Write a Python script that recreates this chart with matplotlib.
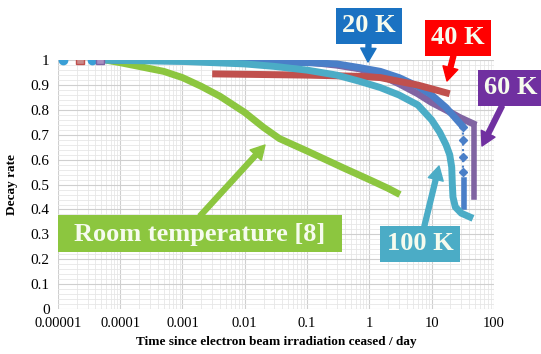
import numpy as np
import matplotlib.pyplot as plt
from matplotlib.patches import Rectangle
from matplotlib.ticker import FixedLocator, LogLocator, NullFormatter

# data (time in days, decay rate)
t_room = [6e-5, 1e-4, 2e-4, 5e-4, 1e-3, 2e-3, 4e-3, 0.01, 0.02, 0.036, 0.06, 0.1, 0.2, 0.4, 1.0, 2.0, 3.1]
v_room = [1.0, 0.99, 0.975, 0.955, 0.93, 0.895, 0.855, 0.79, 0.73, 0.685, 0.66, 0.635, 0.6, 0.565, 0.52, 0.485, 0.46]

t_20k = [8e-5, 0.01, 0.1, 0.3, 0.7, 1.5, 3, 6, 10, 17, 30]
v_20k = [1.0, 0.995, 0.99, 0.985, 0.97, 0.955, 0.93, 0.895, 0.86, 0.81, 0.74]
t_20k_drop = [32, 32, 32, 32]
v_20k_drop = [0.73, 0.68, 0.61, 0.55]
t_20k_tail = [33, 33]
v_20k_tail = [0.52, 0.41]

t_40k = [0.003, 0.1, 0.7, 1.5, 3, 6, 10, 19.5]
v_40k = [0.945, 0.94, 0.935, 0.93, 0.915, 0.9, 0.885, 0.865]

t_60k = [1e-4, 0.01, 0.1, 0.3, 0.7, 1.5, 3, 6, 10, 17, 28, 46]
v_60k = [1.0, 0.998, 0.993, 0.98, 0.965, 0.94, 0.905, 0.865, 0.83, 0.8, 0.77, 0.745]
t_60k_drop = [48, 48]
v_60k_drop = [0.74, 0.45]

t_100k = [6e-5, 1e-3, 0.01, 0.03, 0.1, 0.3, 0.7, 1.5, 3, 6, 10, 13.5, 17, 19.5, 21, 21.5, 22, 24, 30, 41]
v_100k = [1.0, 0.995, 0.985, 0.975, 0.96, 0.94, 0.915, 0.89, 0.86, 0.82, 0.76, 0.71, 0.66, 0.62, 0.57, 0.5, 0.45, 0.41, 0.385, 0.37]

# single markers at the very start
t_start_100k = [1.2e-5, 3.5e-5]
t_start_40k = [2.3e-5]
t_start_60k = [4.7e-5]

c_room = '#8cc63f'
c_20k = '#4a7fc8'
c_40k = '#c0504d'
c_60k = '#8064a2'
c_100k = '#4bacc6'

plt.rcParams['font.family'] = ['Liberation Serif', 'DejaVu Serif']

fig = plt.figure(figsize=(5.41, 3.54), dpi=100)
ax = fig.add_axes([0.107, 0.127, 0.806, 0.703])

ax.plot(t_room, v_room, color=c_room, lw=5, solid_capstyle='butt', zorder=3)
ax.plot(t_60k, v_60k, color=c_60k, lw=5, zorder=4)
ax.plot(t_60k_drop, v_60k_drop, color=c_60k, lw=4, zorder=4)
ax.plot(t_20k, v_20k, color=c_20k, lw=5, zorder=5)
ax.plot(t_20k_drop, v_20k_drop, ':', color=c_20k, lw=1.5, marker='D', ms=4, zorder=5)
ax.plot(t_20k_tail, v_20k_tail, color=c_20k, lw=4, zorder=5)
ax.plot(t_40k, v_40k, color=c_40k, lw=5, solid_capstyle='butt', zorder=6)
ax.plot(t_100k, v_100k, color=c_100k, lw=5, zorder=7)

ax.plot(t_start_100k, [1.0] * len(t_start_100k), 'o', color='#3a9fd6', ms=6, zorder=8)
ax.plot(t_start_40k, [1.0] * len(t_start_40k), 's', color='#c98a8a', mec=c_40k, ms=6, zorder=8)
ax.plot(t_start_60k, [1.0] * len(t_start_60k), 's', color='#a990c0', mec=c_60k, ms=6, zorder=8)

ax.set_xscale('log')
ax.set_xlim(1e-5, 100)
ax.set_ylim(0, 1)

xticks = [1e-5, 1e-4, 1e-3, 1e-2, 0.1, 1, 10, 100]
xlabels = ['0.00001', '0.0001', '0.001', '0.01', '0.1', '1', '10', '100']
ax.xaxis.set_major_locator(FixedLocator(xticks))
ax.set_xticklabels(xlabels, fontsize=10.5)
ax.xaxis.set_minor_locator(LogLocator(base=10, subs=np.arange(2, 10)))
ax.xaxis.set_minor_formatter(NullFormatter())

yticks = np.round(np.arange(0, 1.01, 0.1), 1)
ax.set_yticks(yticks)
ax.set_yticklabels(['0' if v == 0 else ('1' if v == 1 else f'{v:g}') for v in yticks], fontsize=11)
ax.set_yticks(np.arange(0, 1.001, 0.02), minor=True)

ax.grid(which='major', color='#cfcfcf', lw=0.8)
ax.grid(which='minor', color='#e6e6e6', lw=0.6)
ax.tick_params(which='both', length=0, pad=6)
for s in ax.spines.values():
    s.set_visible(False)
ax.set_axisbelow(True)

ax.set_ylabel('Decay rate', fontsize=9.5, fontweight='bold', labelpad=9)
ax.set_xlabel('Time since electron beam irradiation ceased / day', fontsize=9.5,
              fontweight='bold', labelpad=4)


def fp(x, y):
    return (x / 541, 1 - y / 354)


def arrow_props(color):
    return dict(arrowstyle='simple,head_length=0.45,head_width=0.5,tail_width=0.16',
                color=color, mutation_scale=22, shrinkA=0, shrinkB=0)


def label_box(text, color, box_xy, tip_xy):
    ax.annotate(text, xy=fp(*tip_xy), xycoords='figure fraction',
                xytext=fp(*box_xy), textcoords='figure fraction',
                ha='center', va='center', fontsize=19, fontweight='bold', color='#f6fbee',
                bbox=dict(boxstyle='square,pad=0.24', fc=color, ec='none'),
                arrowprops=arrow_props(color), zorder=10, annotation_clip=False)


label_box('20 K', '#1a72c2', (369, 26), (368, 62))
label_box('40 K', '#ff0000', (458, 38), (447, 81))
label_box('60 K', '#7030a0', (511, 88), (482, 146))
label_box('100 K', '#4bacc6', (420, 244), (439, 166))

# room temperature box is wider than its text
x0, y0 = fp(58, 252)
x1, y1 = fp(342, 215)
fig.add_artist(Rectangle((x0, y0), x1 - x0, y1 - y0, transform=fig.transFigure,
                         fc='#8cc63f', ec='none', zorder=10))
fig.text(*fp(200, 234), 'Room temperature [8]', ha='center', va='center',
         fontsize=19, fontweight='bold', color='#f6fbee', zorder=11)
ax.annotate('', xy=fp(265, 145), xycoords='figure fraction',
            xytext=fp(200, 216), textcoords='figure fraction',
            arrowprops=arrow_props('#8cc63f'), zorder=10, annotation_clip=False)

fig.savefig('out.png', dpi=100)
